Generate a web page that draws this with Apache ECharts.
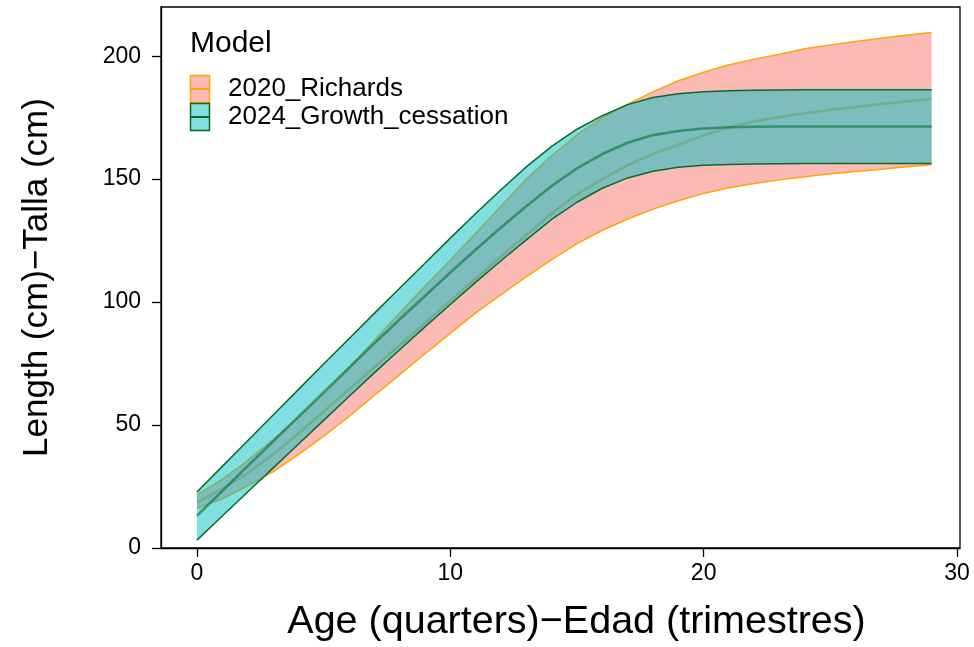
<!DOCTYPE html>
<html>
<head>
<meta charset="utf-8">
<script src="https://cdn.jsdelivr.net/npm/echarts@6/dist/echarts.min.js"></script>
<style>html,body{margin:0;padding:0;background:#fff}#c{width:974px;height:647px}</style>
</head>
<body>
<div id="c"></div>
<script>
const ages = [0,1,2,3,4,5,6,7,8,9,10,11,12,13,14,15,16,17,18,19,20,21,22,23,24,25,26,27,28,29];
const richLower = [16,20,25.3,31,38,45.5,53.5,62,70.5,79,87.3,95.6,103,110.3,117.3,123.8,129.2,133.8,137.8,141.2,144.2,146.5,148.2,149.7,151,152.2,153.1,154,155,155.8];
const richMean = [18.5,24,30.5,38,46.5,55.5,64.5,73.5,82.5,91.5,100.5,109.5,118.5,127.3,136,143.8,150,155.7,160.2,164,167.8,171,173.5,175.3,176.8,178.2,179.3,180.5,181.6,182.6];
const richUpper = [21.5,28,35.5,44,53,62.5,73,84.5,95.5,106.5,117,128,139,150,159.5,168,175,180.5,185.5,190,193.5,196.5,198.8,200.8,203,204.6,206,207.3,208.5,209.6];
const tealLower = [3.2,13,22.8,32.5,42.2,51.9,61.6,71.2,80.6,89.9,99,108,116.8,125.3,133.6,140.6,146.3,150.5,153.2,154.8,155.6,156,156.2,156.3,156.4,156.4,156.4,156.4,156.4,156.4];
const tealMean = [13.1,23.2,33.3,43.3,53.3,63.3,73.3,83.2,92.9,102.5,112,121.3,130.3,139,147.2,154.4,160.2,164.8,167.9,169.6,170.6,171.1,171.3,171.4,171.4,171.4,171.4,171.4,171.4,171.4];
const tealUpper = [22.8,33.2,43.6,54,64.4,74.8,85.1,95.4,105.6,115.8,126,136,145.7,155,163.3,170.3,175.8,180.3,183.2,184.7,185.5,185.9,186.1,186.2,186.3,186.3,186.3,186.3,186.3,186.3];
const modelNames = ['2020_Richards','2024_Growth_cessation'];
const xTicks = [0,10,20,30];
const yTicks = [0,50,100,150,200];

const FONT = '"Liberation Sans", Arial, Helvetica, sans-serif';
const pair = (xs, ys) => xs.map((x, i) => [x, ys[i]]);
const triple = (xs, lo, up) => xs.map((x, i) => [x, lo[i], up[i]]);

const ORANGE = '#FFA500', PINK = 'rgba(248,118,109,0.5)';
const DKGREEN = '#0b6b26', TEAL = 'rgba(0,191,196,0.5)';

function bandSeries(name, lo, up, fill, z) {
  return {
    name: name, type: 'custom', data: triple(ages, lo, up), z: z,
    encode: {x: 0, y: [1, 2]},
    renderItem: function (params, api) {
      if (params.dataIndexInside !== 0) return null;
      const n = params.dataInsideLength;
      const pts = [];
      for (let i = 0; i < n; i++) pts.push(api.coord([api.value(0, i), api.value(2, i)]));
      for (let i = n - 1; i >= 0; i--) pts.push(api.coord([api.value(0, i), api.value(1, i)]));
      return {type: 'polygon', shape: {points: pts}, style: {fill: fill, stroke: null}, silent: true};
    }
  };
}
function lineSeries(name, ys, color, width, z) {
  return {name: name, type: 'line', data: pair(ages, ys), smooth: false, symbol: 'none', z: z,
          lineStyle: {color: color, width: width}, silent: true};
}

const chart = echarts.init(document.getElementById('c'), null, {renderer: 'canvas'});
chart.setOption({
  animation: false,
  backgroundColor: '#fff',
  textStyle: {fontFamily: FONT},
  grid: {left: 161, right: 14, top: 7, bottom: 98, show: true, borderColor: '#000', borderWidth: 1.3, containLabel: false},
  xAxis: {
    type: 'value', min: -1.42, max: 30.12,
    name: 'Age (quarters)\u2212Edad (trimestres)', nameLocation: 'middle', nameGap: 54,
    nameTextStyle: {fontSize: 39.5, color: '#000', fontFamily: FONT, padding: [0, 0, 0, 32]},
    axisLine: {show: true, onZero: false, lineStyle: {color: '#000', width: 1.3}},
    axisTick: {show: true, inside: false, length: 9, customValues: xTicks, lineStyle: {color: '#000', width: 1.3}},
    axisLabel: {show: true, customValues: xTicks, margin: 14, fontSize: 23, color: '#000', fontFamily: FONT},
    splitLine: {show: false}
  },
  yAxis: {
    type: 'value', min: 0, max: 220,
    name: 'Length (cm)\u2212Talla (cm)', nameLocation: 'middle', nameGap: 106, nameRotate: 90,
    nameTextStyle: {fontSize: 35, color: '#000', fontFamily: FONT},
    axisLine: {show: true, onZero: false, lineStyle: {color: '#000', width: 1.3}},
    axisTick: {show: true, inside: false, length: 9, customValues: yTicks, lineStyle: {color: '#000', width: 1.3}},
    axisLabel: {show: true, customValues: yTicks, margin: 20, fontSize: 23, color: '#000', fontFamily: FONT},
    splitLine: {show: false}
  },
  series: [
    bandSeries(modelNames[0], richLower, richUpper, PINK, 1),
    lineSeries('rl', richLower, ORANGE, 1.5, 2),
    lineSeries('ru', richUpper, ORANGE, 1.5, 2),
    lineSeries('rm', richMean, 'rgba(205,140,30,0.6)', 2.6, 2),
    bandSeries(modelNames[1], tealLower, tealUpper, TEAL, 3),
    lineSeries('tl', tealLower, DKGREEN, 1.5, 4),
    lineSeries('tu', tealUpper, DKGREEN, 1.5, 4),
    lineSeries('tm', tealMean, 'rgba(10,110,60,0.6)', 2.6, 4)
  ],
  graphic: [
    {type: 'text', left: 190, top: 29, style: {text: 'Model', font: '30px ' + FONT, fill: '#000'}},
    {type: 'rect', shape: {x: 190.5, y: 75.5, width: 19, height: 27}, style: {fill: PINK, stroke: ORANGE, lineWidth: 1.5}},
    {type: 'line', shape: {x1: 190.5, y1: 89, x2: 209.5, y2: 89}, style: {stroke: ORANGE, lineWidth: 2}},
    {type: 'rect', shape: {x: 190.5, y: 103.5, width: 19, height: 27}, style: {fill: TEAL, stroke: DKGREEN, lineWidth: 1.5}},
    {type: 'line', shape: {x1: 190.5, y1: 117, x2: 209.5, y2: 117}, style: {stroke: DKGREEN, lineWidth: 2}},
    {type: 'text', left: 228, top: 76, style: {text: modelNames[0], font: '26px ' + FONT, fill: '#000'}},
    {type: 'text', left: 228, top: 104, style: {text: modelNames[1], font: '26px ' + FONT, fill: '#000'}}
  ]
});
</script>
</body>
</html>
